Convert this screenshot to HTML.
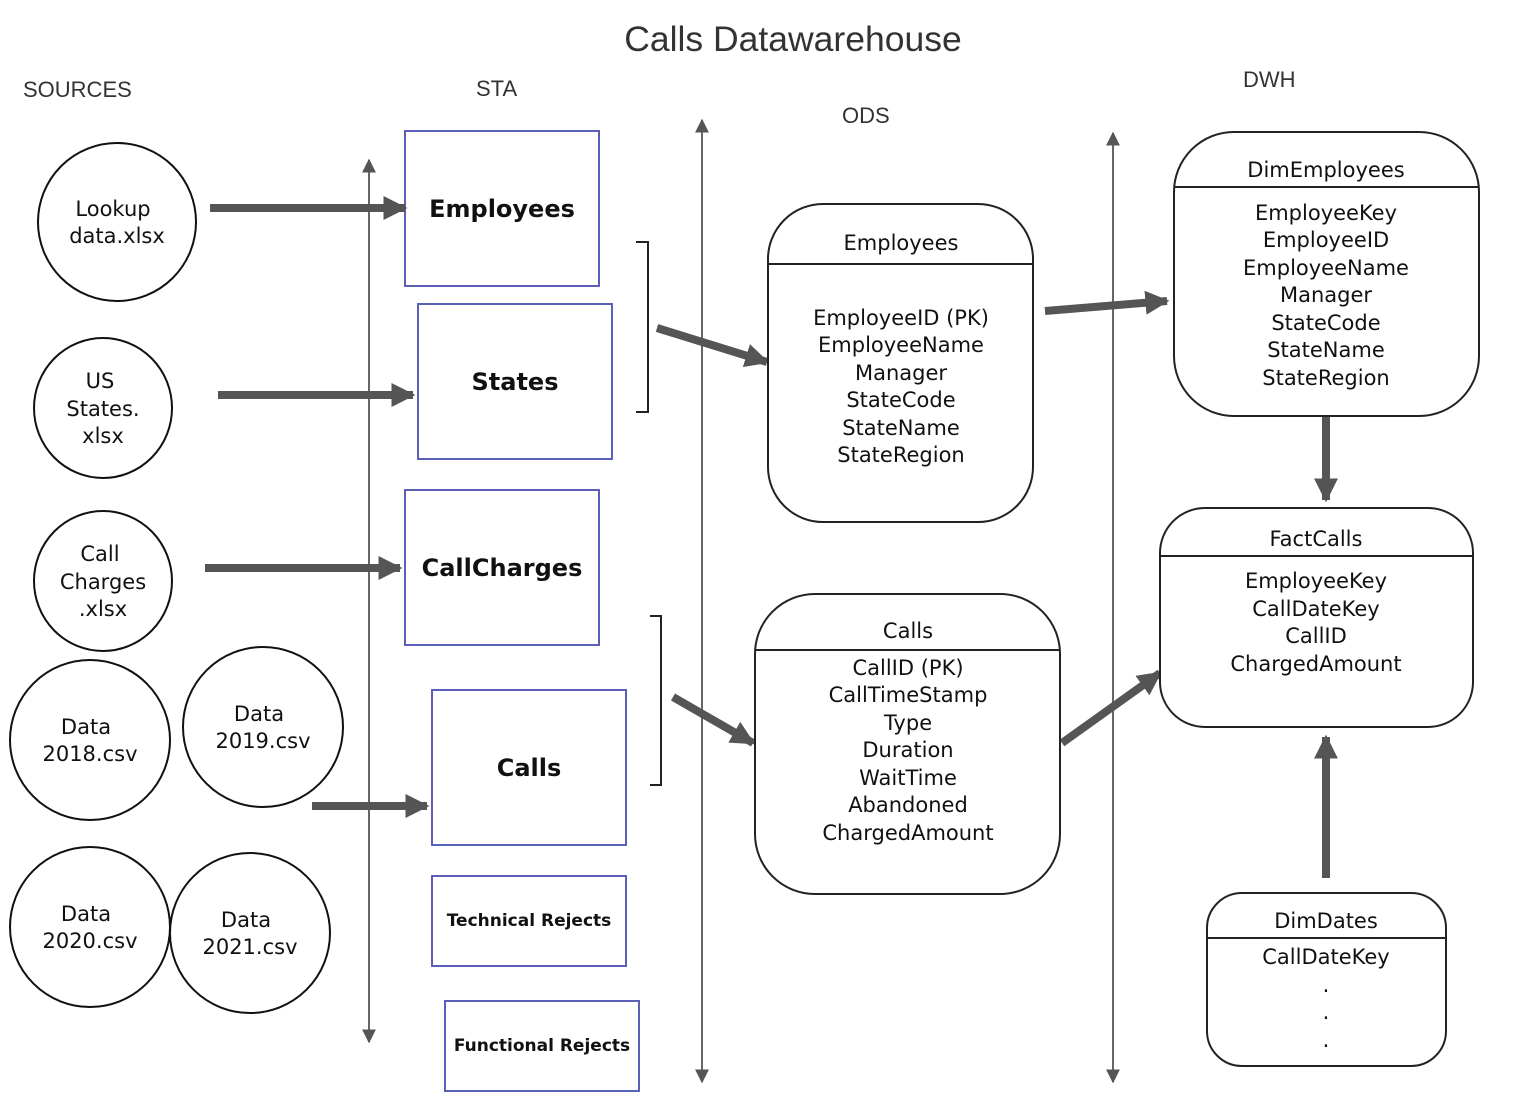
<!DOCTYPE html>
<html><head><meta charset="utf-8"><style>
html,body{margin:0;padding:0;background:#fff;}
svg{display:block;}
.h{font-family:"Liberation Sans",sans-serif;fill:#333;}
.t{font-family:"DejaVu Sans","Liberation Sans",sans-serif;fill:#111;text-anchor:middle;dominant-baseline:central;}
.b{font-weight:bold;}
</style></head><body>
<svg width="1534" height="1108" viewBox="0 0 1534 1108" xmlns="http://www.w3.org/2000/svg">
<defs>
<marker id="big" viewBox="0 0 10 10" refX="9" refY="5" markerWidth="24" markerHeight="24" orient="auto" markerUnits="userSpaceOnUse"><path d="M0,0 L10,5 L0,10 z" fill="#555"/></marker>
<marker id="sm" viewBox="0 0 10 10" refX="9" refY="5" markerWidth="14" markerHeight="14" orient="auto-start-reverse" markerUnits="userSpaceOnUse"><path d="M0,0 L10,5 L0,10 z" fill="#555"/></marker>
</defs>

<text class="h" x="793" y="51" font-size="35.5" text-anchor="middle">Calls Datawarehouse</text>
<text class="h" x="23" y="97" font-size="22">SOURCES</text>
<text class="h" x="476" y="96" font-size="22">STA</text>
<text class="h" x="842" y="123" font-size="22">ODS</text>
<text class="h" x="1243" y="87" font-size="22">DWH</text>

<g fill="#fff" stroke="#111" stroke-width="2">
<ellipse cx="117" cy="222" rx="79" ry="79"/>
<ellipse cx="103" cy="408" rx="69" ry="70"/>
<ellipse cx="103" cy="581" rx="69" ry="70"/>
<ellipse cx="90" cy="740" rx="80" ry="80"/>
<ellipse cx="263" cy="727" rx="80" ry="80"/>
<ellipse cx="90" cy="927" rx="80" ry="80"/>
<ellipse cx="250" cy="933" rx="80" ry="80"/>
</g>
<g class="t" font-size="21">
<text x="113" y="209">Lookup</text><text x="117" y="236">data.xlsx</text>
<text x="100" y="381">US</text><text x="103" y="409">States.</text><text x="103" y="436">xlsx</text>
<text x="100" y="554">Call</text><text x="103" y="582">Charges</text><text x="103" y="609">.xlsx</text>
<text x="86" y="727">Data</text><text x="90" y="754">2018.csv</text>
<text x="259" y="714">Data</text><text x="263" y="741">2019.csv</text>
<text x="86" y="914">Data</text><text x="90" y="941">2020.csv</text>
<text x="246" y="920">Data</text><text x="250" y="947">2021.csv</text>
</g>

<g stroke="#666" stroke-width="2">
<line x1="369" y1="160" x2="369" y2="1042" marker-start="url(#sm)" marker-end="url(#sm)"/>
<line x1="702" y1="120" x2="702" y2="1082" marker-start="url(#sm)" marker-end="url(#sm)"/>
<line x1="1113" y1="133" x2="1113" y2="1082" marker-start="url(#sm)" marker-end="url(#sm)"/>
</g>

<g fill="#fff" stroke="#5a5fb8" stroke-width="2">
<rect x="405" y="131" width="194" height="155"/>
<rect x="418" y="304" width="194" height="155"/>
<rect x="405" y="490" width="194" height="155"/>
<rect x="432" y="690" width="194" height="155"/>
<rect x="432" y="876" width="194" height="90"/>
<rect x="445" y="1001" width="194" height="90"/>
</g>
<g class="t b" font-size="24">
<text x="502" y="209">Employees</text>
<text x="515" y="382">States</text>
<text x="502" y="568">CallCharges</text>
<text x="529" y="768">Calls</text>
</g>
<g class="t b" font-size="17">
<text x="529" y="921">Technical Rejects</text>
<text x="542" y="1046">Functional Rejects</text>
</g>

<g stroke="#555" stroke-width="8" fill="none">
<line x1="210" y1="208" x2="405" y2="208" marker-end="url(#big)"/>
<line x1="218" y1="395" x2="413" y2="395" marker-end="url(#big)"/>
<line x1="205" y1="568" x2="400" y2="568" marker-end="url(#big)"/>
<line x1="312" y1="806" x2="427" y2="806" marker-end="url(#big)"/>
<line x1="657" y1="328" x2="767" y2="362" marker-end="url(#big)"/>
<line x1="673" y1="697" x2="753" y2="743" marker-end="url(#big)"/>
<line x1="1045" y1="311" x2="1167" y2="301" marker-end="url(#big)"/>
<line x1="1062" y1="743" x2="1160" y2="673" marker-end="url(#big)"/>
<line x1="1326" y1="416" x2="1326" y2="500" marker-end="url(#big)"/>
<line x1="1326" y1="878" x2="1326" y2="737" marker-end="url(#big)"/>
</g>

<g stroke="#222" stroke-width="2" fill="none">
<polyline points="636,242 648,242 648,412 636,412"/>
<polyline points="650,616 661,616 661,785 650,785"/>
</g>

<g fill="#fff" stroke="#222" stroke-width="2">
<rect x="768" y="204" width="265" height="318" rx="55"/>
<line x1="768" y1="264" x2="1033" y2="264"/>
<rect x="755" y="594" width="305" height="300" rx="60"/>
<line x1="755" y1="650" x2="1060" y2="650"/>
<rect x="1174" y="132" width="305" height="284" rx="60"/>
<line x1="1174" y1="187" x2="1479" y2="187"/>
<rect x="1160" y="508" width="313" height="219" rx="45"/>
<line x1="1160" y1="556" x2="1473" y2="556"/>
<rect x="1207" y="893" width="239" height="173" rx="35"/>
<line x1="1207" y1="938" x2="1446" y2="938"/>
</g>
<g class="t" font-size="21">
<text x="901" y="243">Employees</text>
<text x="901" y="318">EmployeeID (PK)</text>
<text x="901" y="345">EmployeeName</text>
<text x="901" y="373">Manager</text>
<text x="901" y="400">StateCode</text>
<text x="901" y="428">StateName</text>
<text x="901" y="455">StateRegion</text>

<text x="908" y="631">Calls</text>
<text x="908" y="668">CallID (PK)</text>
<text x="908" y="695">CallTimeStamp</text>
<text x="908" y="723">Type</text>
<text x="908" y="750">Duration</text>
<text x="908" y="778">WaitTime</text>
<text x="908" y="805">Abandoned</text>
<text x="908" y="833">ChargedAmount</text>

<text x="1326" y="170">DimEmployees</text>
<text x="1326" y="213">EmployeeKey</text>
<text x="1326" y="240">EmployeeID</text>
<text x="1326" y="268">EmployeeName</text>
<text x="1326" y="295">Manager</text>
<text x="1326" y="323">StateCode</text>
<text x="1326" y="350">StateName</text>
<text x="1326" y="378">StateRegion</text>

<text x="1316" y="539">FactCalls</text>
<text x="1316" y="581">EmployeeKey</text>
<text x="1316" y="609">CallDateKey</text>
<text x="1316" y="636">CallID</text>
<text x="1316" y="664">ChargedAmount</text>

<text x="1326" y="921">DimDates</text>
<text x="1326" y="957">CallDateKey</text>
<text x="1326" y="985">.</text>
<text x="1326" y="1012">.</text>
<text x="1326" y="1040">.</text>
</g>
</svg>
</body></html>
